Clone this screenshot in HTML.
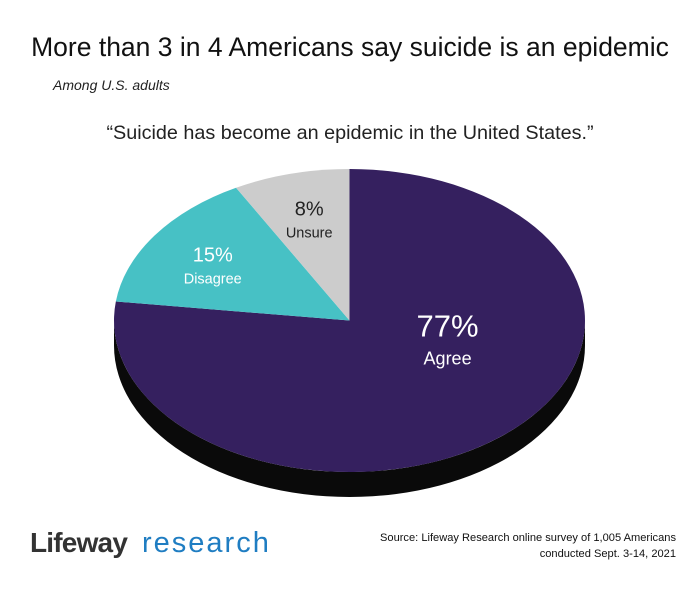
<!DOCTYPE html>
<html><head><meta charset="utf-8"><style>
body{margin:0;background:#fff;}
svg text{font-family:"Liberation Sans",sans-serif;}
</style></head><body>
<svg width="700" height="592" viewBox="0 0 700 592" xmlns="http://www.w3.org/2000/svg">
<text x="350" y="56" text-anchor="middle" font-size="26.5" fill="#111">More than 3 in 4 Americans say suicide is an epidemic</text>
<text x="53" y="90" font-size="14" font-style="italic" fill="#222">Among U.S. adults</text>
<text x="350" y="139" text-anchor="middle" font-size="19.8" fill="#222">“Suicide has become an epidemic in the United States.”</text>
<g id="pie"></g>
<g>
<text x="30" y="552" font-size="28" font-weight="bold" fill="#333" letter-spacing="-0.8">Lifeway</text>
<text x="142" y="552" font-size="29" fill="#1f7dc2" letter-spacing="2">research</text>
</g>
<text x="676" y="541" text-anchor="end" font-size="11.1" fill="#111">Source: Lifeway Research online survey of 1,005 Americans</text>
<text x="676" y="557" text-anchor="end" font-size="11.1" fill="#111">conducted Sept. 3-14, 2021</text>
</svg>
<script>
const categories = ["Agree","Disagree","Unsure"];
const values = [77,15,8];
const labels = ["77%","15%","8%"];
const colors = ["#35205f","#47c1c5","#cccccc"];
const cx=349.5, cy=320.5, rx=235.5, ry=151.5, depth=25;
const labelShift=[[28,-45],[-16,-6],[-4,-14]];
const NS="http://www.w3.org/2000/svg";
const g=document.getElementById('pie');
function pt(frac,r){const t=frac*2*Math.PI;return [cx+rx*r*Math.sin(t), cy-ry*r*Math.cos(t)];}
const side=document.createElementNS(NS,'path');
side.setAttribute('d',`M${cx-rx},${cy} A${rx},${ry} 0 0 0 ${cx+rx},${cy} L${cx+rx},${cy+depth} A${rx},${ry} 0 0 1 ${cx-rx},${cy+depth} Z`);
side.setAttribute('fill','#0a0a0a');


g.appendChild(side);
const total=values.reduce((a,b)=>a+b,0);
let acc=0;
values.forEach((v,i)=>{
  const a0=acc/total, a1=(acc+v)/total; acc+=v;
  const p0=pt(a0,1), p1=pt(a1,1);
  const large=(a1-a0)>0.5?1:0;
  const p=document.createElementNS(NS,'path');
  p.setAttribute('d',`M${cx},${cy} L${p0[0]},${p0[1]} A${rx},${ry} 0 ${large} 1 ${p1[0]},${p1[1]} Z`);
  p.setAttribute('fill',colors[i]);
  
  
  g.appendChild(p);
  const mid=(a0+a1)/2;
  const r=i===0?0.45:0.62;
  const lp=pt(mid,r);
  lp[0]+=labelShift[i][0]; lp[1]+=labelShift[i][1];
  const big=i===0;
  const tc=i===2?'#222':'#fff';
  const t1=document.createElementNS(NS,'text');
  t1.setAttribute('x',lp[0]);t1.setAttribute('y',lp[1]+(big?10:0));
  t1.setAttribute('text-anchor','middle');t1.setAttribute('font-size',big?31:20);t1.setAttribute('fill',tc);
  t1.textContent=labels[i];
  
  
  g.appendChild(t1);
  const t2=document.createElementNS(NS,'text');
  t2.setAttribute('x',lp[0]);t2.setAttribute('y',lp[1]+(big?38:22));
  t2.setAttribute('text-anchor','middle');t2.setAttribute('font-size',big?18:14.5);t2.setAttribute('fill',tc);
  t2.textContent=categories[i];
  
  
  g.appendChild(t2);
});
</script>
</body></html>
